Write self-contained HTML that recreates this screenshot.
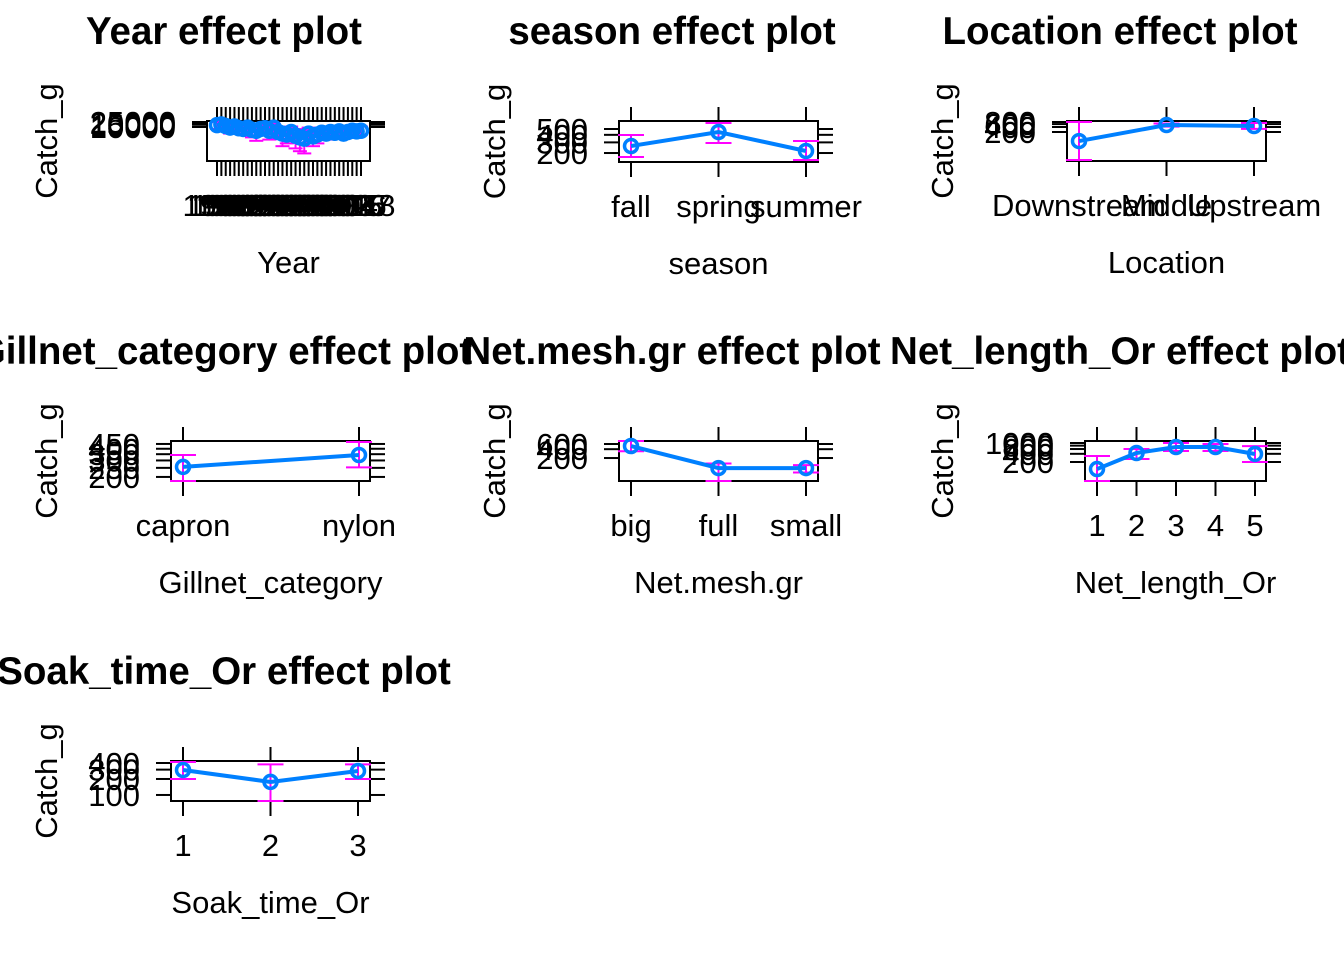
<!DOCTYPE html>
<html><head><meta charset="utf-8"><style>
html,body{margin:0;padding:0;background:#fff;}
svg{display:block;font-family:"Liberation Sans",Arial,sans-serif;}
</style></head><body>
<svg id="chart" width="1344" height="960" viewBox="0 0 1344 960"></svg>
<script>
// ---- data ----
const yearCats = [1985,1986,1987,1988,1989,1990,1991,1992,1993,1994,1995,1996,1997,1998,1999,2000,2001,2002,2003,2004,2005,2006,2007,2008,2009,2010,2011,2012,2013,2014,2015,2016,2017,2018];
const yearFit = [14000,16000,12000,9000,11000,8000,7000,9000,6000,5000,7000,8000,5000,9000,4000,3000,2500,4000,2000,1500,1200,3000,1800,2500,3500,3000,4000,3500,4500,3000,4000,5000,4500,5000];
const yearLo = [7000,9000,5000,3000,5000,3000,2500,4000,1500,800,3000,3500,1000,4000,1200,300,500,1000,200,120,80,600,300,500,1500,1000,1800,1500,2000,1200,1800,2500,2200,2500];
const yearHi = [25000,28000,22000,18000,20000,16000,15000,17000,14000,12000,15000,16000,13000,18000,10000,9000,8000,11000,7000,6000,5500,9000,6500,8000,9000,8000,9500,8500,10000,8000,9000,11000,10000,11000];
const yearTicks = [10000,15000,20000,25000];

const seasonCats = ["fall","spring","summer"];
const seasonFit = [261,446,216];
const seasonLo = [172,293,153];
const seasonHi = [398,629,317];
const seasonTicks = [200,300,400,500];

const locCats = ["Downstream","Middle","Upstream"];
const locFit = [57,530,460];
const locLo = [4.1,420,310];
const locHi = [800,650,700];
const locTicks = [200,400,600,800];

const gillCats = ["capron","nylon"];
const gillFit = [256,343];
const gillLo = [181,253];
const gillHi = [343,472];
const gillTicks = [200,250,300,350,400,450];

const meshCats = ["big","full","small"];
const meshFit = [513,91,91];
const meshLo = [340,33,64];
const meshHi = [760,130,115];
const meshTicks = [200,400,600];

const lenCats = ["1","2","3","4","5"];
const lenFit = [110,429,713,713,395];
const lenLo = [40,258,508,508,200];
const lenHi = [332,600,1000,920,770];
const lenTicks = [200,400,600,800,1000];

const soakCats = ["1","2","3"];
const soakFit = [295,176,283];
const soakLo = [200,77,200];
const soakHi = [418,376,376];
const soakTicks = [100,200,300,400];

const NS="http://www.w3.org/2000/svg";
const svg=document.getElementById('chart');
function mk(tag,attrs,parent){const e=document.createElementNS(NS,tag);for(const k in attrs)e.setAttribute(k,attrs[k]);(parent||svg).appendChild(e);return e;}

function panel(o){
  const g=mk('g',{});
  
  
  const {x0,x1,y0,y1}=o.box;
  const n=o.cats.length;
  const xs=i=>o.xl+(o.xr-o.xl)*(n===1?0:i/(n-1));
  const ly=v=>y1-(Math.log(v)-Math.log(o.ymin))/(Math.log(o.ymax)-Math.log(o.ymin))*(y1-y0);
  const cx=(o.col*448)+224;
  const t=mk('text',{x:cx,y:y0-77,'text-anchor':'middle','font-size':38.5,'font-weight':'bold',fill:'#000'},g);
  t.textContent=o.title;
  
  
  const yl=mk('text',{x:0,y:0,'text-anchor':'middle','font-size':31,fill:'#000',transform:`translate(${o.col*448+57},${(y0+y1)/2}) rotate(-90)`},g);
  yl.textContent='Catch_g';
  
  
  const xl=mk('text',{x:(x0+x1)/2,y:y1+112,'text-anchor':'middle','font-size':31,fill:'#000'},g);
  xl.textContent=o.xtitle;
  
  
  o.ticks.forEach(v=>{
    const y=ly(v);
    mk('line',{x1:x0-15,x2:x0,y1:y,y2:y,stroke:'#000','stroke-width':2},g);
    mk('line',{x1:x1,x2:x1+15,y1:y,y2:y,stroke:'#000','stroke-width':2},g);
    const tl=mk('text',{x:x0-31,y:y+11,'text-anchor':'end','font-size':31,fill:'#000'},g);
    tl.textContent=String(v);
    
    
  });
  o.cats.forEach((c,i)=>{
    const x=xs(i);
    mk('line',{x1:x,x2:x,y1:y0-14,y2:y0,stroke:'#000','stroke-width':2},g);
    mk('line',{x1:x,x2:x,y1:y1,y2:y1+15,stroke:'#000','stroke-width':2},g);
    const tl=mk('text',{x:x,y:y1+55,'text-anchor':'middle','font-size':31,fill:'#000'},g);
    tl.textContent=String(c);
    
    
  });
  mk('rect',{x:x0,y:y0,width:x1-x0,height:y1-y0,fill:'none',stroke:'#000','stroke-width':2},g);
  const sp=(o.xr-o.xl)/(n-1);
  const cl=Math.min(13,Math.max(7,sp/3));
  o.cats.forEach((c,i)=>{
    const x=xs(i);const a=ly(o.lo[i]),b=ly(o.hi[i]);
    const eb=mk('g',{},g);
    
    
    mk('line',{x1:x,x2:x,y1:a,y2:b,stroke:'#FF00FF','stroke-width':2},eb);
    mk('line',{x1:x-cl,x2:x+cl,y1:a,y2:a,stroke:'#FF00FF','stroke-width':2},eb);
    mk('line',{x1:x-cl,x2:x+cl,y1:b,y2:b,stroke:'#FF00FF','stroke-width':2},eb);
  });
  const pts=o.fit.map((v,i)=>xs(i)+','+ly(v)).join(' ');
  const pl=mk('polyline',{points:pts,fill:'none',stroke:'#0080FF','stroke-width':4},g);
  
  
  o.fit.forEach((v,i)=>{
    const p=mk('circle',{cx:xs(i),cy:ly(v),r:6.5,fill:'none',stroke:'#0080FF','stroke-width':3.5},g);
    
    
  });
}

panel({key:'year',title:'Year effect plot',xtitle:'Year',col:0,box:{x0:207,x1:370,y0:121,y1:161},xl:217,xr:361,cats:yearCats,fit:yearFit,lo:yearLo,hi:yearHi,ticks:yearTicks,ymin:20,ymax:30000});
panel({key:'season',title:'season effect plot',xtitle:'season',col:1,box:{x0:619,x1:818,y0:121,y1:162},xl:631,xr:806,cats:seasonCats,fit:seasonFit,lo:seasonLo,hi:seasonHi,ticks:seasonTicks,ymin:142,ymax:678});
panel({key:'location',title:'Location effect plot',xtitle:'Location',col:2,box:{x0:1067,x1:1266,y0:121,y1:161},xl:1079,xr:1254,cats:locCats,fit:locFit,lo:locLo,hi:locHi,ticks:locTicks,ymin:3.6,ymax:920});
panel({key:'gillnet',title:'Gillnet_category effect plot',xtitle:'Gillnet_category',col:0,box:{x0:171,x1:370,y0:441,y1:481},xl:183,xr:359,cats:gillCats,fit:gillFit,lo:gillLo,hi:gillHi,ticks:gillTicks,ymin:181,ymax:484});
panel({key:'mesh',title:'Net.mesh.gr effect plot',xtitle:'Net.mesh.gr',col:1,box:{x0:619,x1:818,y0:441,y1:481},xl:631,xr:806,cats:meshCats,fit:meshFit,lo:meshLo,hi:meshHi,ticks:meshTicks,ymin:33,ymax:760});
panel({key:'netlength',title:'Net_length_Or effect plot',xtitle:'Net_length_Or',col:2,box:{x0:1085,x1:1266,y0:441,y1:481},xl:1097,xr:1255,cats:lenCats,fit:lenFit,lo:lenLo,hi:lenHi,ticks:lenTicks,ymin:40,ymax:1185});
panel({key:'soak',title:'Soak_time_Or effect plot',xtitle:'Soak_time_Or',col:0,box:{x0:171,x1:370,y0:761,y1:801},xl:183,xr:358,cats:soakCats,fit:soakFit,lo:soakLo,hi:soakHi,ticks:soakTicks,ymin:77,ymax:436});
</script>
</body></html>
